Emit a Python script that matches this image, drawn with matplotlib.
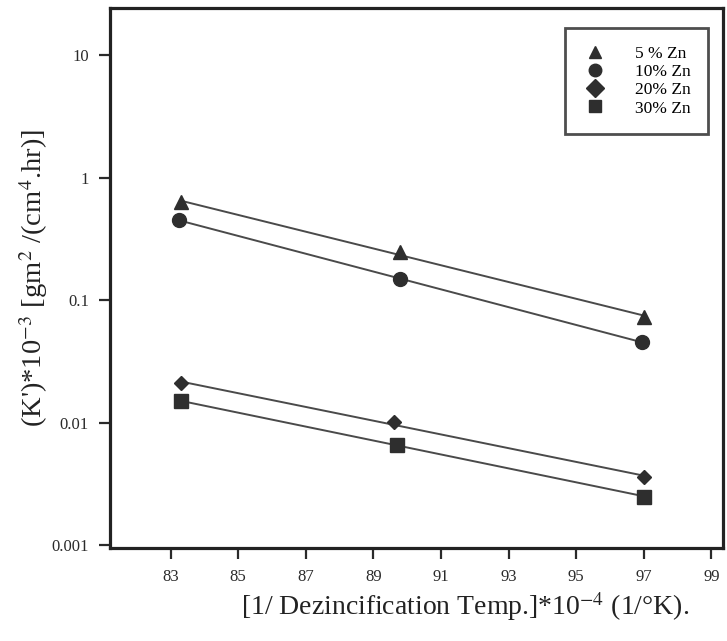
import numpy as np
import matplotlib
matplotlib.use("Agg")
import matplotlib.pyplot as plt
from matplotlib.ticker import FixedLocator, FixedFormatter

plt.rcParams['font.family'] = ['Liberation Serif', 'DejaVu Serif']
plt.rcParams['mathtext.fontset'] = 'stix'

# Data
labels = ['5 % Zn', '10% Zn', '20% Zn', '30% Zn']
markers = ['^', 'o', 'D', 's']
msizes = [10, 10, 7.5, 9.5]
x_5 = [83.3, 89.8, 97.0]
y_5 = [0.63, 0.245, 0.073]
x_10 = [83.25, 89.8, 96.95]
y_10 = [0.45, 0.148, 0.0455]
x_20 = [83.3, 89.6, 97.0]
y_20 = [0.021, 0.0102, 0.0036]
x_30 = [83.3, 89.7, 97.0]
y_30 = [0.015, 0.0066, 0.0025]

xs = [x_5, x_10, x_20, x_30]
ys = [y_5, y_10, y_20, y_30]

x_ticks = [83, 85, 87, 89, 91, 93, 95, 97, 99]
y_ticks = [0.001, 0.01, 0.1, 1, 10]
y_ticklabels = ['0.001', '0.01', '0.1', '1', '10']

fig = plt.figure(figsize=(7.27, 6.41), dpi=100)
ax = fig.add_axes([0.151, 0.145, 0.843, 0.842])

mcol = '#2e2e2e'
handles = []
for x, y, lab, m, ms in zip(xs, ys, labels, markers, msizes):
    # straight-line fit in log space
    k, b = np.polyfit(x, np.log10(y), 1)
    xl = np.array([min(x), max(x)])
    ax.plot(xl, 10 ** (k * xl + b), color='#4a4a4a', lw=1.4, zorder=2)
    h, = ax.plot(x, y, linestyle='none', marker=m, ms=ms, color=mcol,
                 markeredgecolor=mcol, zorder=3, label=lab)
    handles.append(h)

ax.set_yscale('log')
ax.set_xlim(81.2, 99.33)
ax.set_ylim(0.00095, 24)

ax.xaxis.set_major_locator(FixedLocator(x_ticks))
ax.set_xticklabels([str(t) for t in x_ticks])
ax.yaxis.set_major_locator(FixedLocator(y_ticks))
ax.yaxis.set_major_formatter(FixedFormatter(y_ticklabels))
ax.yaxis.set_minor_locator(FixedLocator([]))
ax.tick_params(axis='both', direction='out', length=8, width=1.6,
               labelsize=12, colors='#2a2a2a', pad=7)
ax.tick_params(top=False, right=False)

for s in ax.spines.values():
    s.set_linewidth(2.3)
    s.set_color('#222222')

ax.set_xlabel(r"[1/ Dezincification Temp.]*10$^{-4}$ (1/°K).", fontsize=20,
              color='#222222')
ax.xaxis.set_label_coords(0.58, -0.078)
ax.set_ylabel(r"(K')*10$^{-3}$ [gm$^{2}$ /(cm$^{4}$.hr)]", fontsize=20.5,
              color='#222222')
ax.yaxis.set_label_coords(-0.098, 0.5)

leg = ax.legend(handles=handles, loc='upper right', fontsize=12.5,
                frameon=True, fancybox=False, edgecolor='#222222',
                handletextpad=1.6, borderpad=1.0, labelspacing=0.12,
                handlelength=1.4, markerfirst=True, borderaxespad=0,
                bbox_to_anchor=(0.976, 0.963))
leg.get_frame().set_linewidth(2.0)
for h in leg.legend_handles:
    h.set_markersize(9)

fig.savefig('out.png', dpi=100)
